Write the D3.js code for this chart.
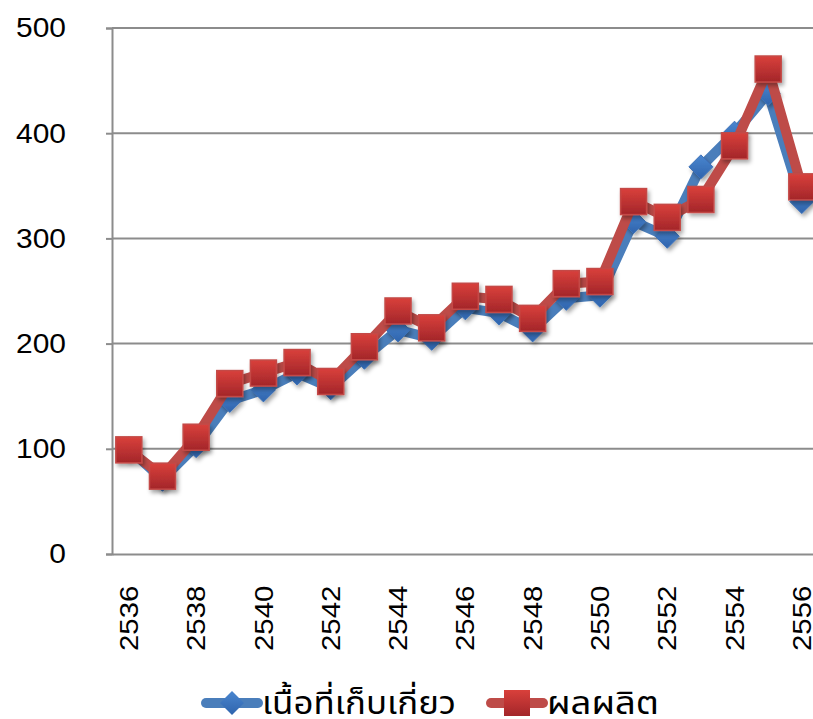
<!DOCTYPE html>
<html>
<head>
<meta charset="utf-8">
<script src="https://cdn.jsdelivr.net/npm/d3@7"></script>
<style>
  body { margin: 0; background: #fff; overflow: hidden; }
  text { font-family: "Liberation Sans", Arial, sans-serif; fill: #000; }
  .legend text { font-family: "Noto Sans Thai", "Noto Sans", "DejaVu Sans", sans-serif; }
</style>
</head>
<body>
<div id="chart"></div>
<script>
// years (Thai Buddhist era)
const years = d3.range(2536, 2557);
// เนื้อที่เก็บเกี่ยว
const areaValues = [100, 71, 103, 146, 156, 172, 158, 187, 213, 205, 234, 229, 213, 243, 246, 316, 302, 368, 400, 438, 335];
// ผลผลิต
const outputValues = [99, 74, 111, 162, 172, 182, 164, 197, 231, 215, 245, 242, 224, 257, 259, 335, 320, 337, 388, 461, 349];
const yTicks = [0, 100, 200, 300, 400, 500];
const xLabels = years.filter((d, i) => i % 2 === 0);

const W = 813, H = 719;
const margin = {top: 28, left: 112, bottom: 165};
const step = 33.65;

const svg = d3.select("#chart").append("svg")
    .attr("width", W).attr("height", H);

const defs = svg.append("defs");
const shadow = defs.append("filter").attr("id", "shadow")
    .attr("x", "-50%").attr("y", "-50%").attr("width", "200%").attr("height", "200%");
shadow.append("feDropShadow").attr("dx", 2).attr("dy", 3).attr("stdDeviation", 2)
    .attr("flood-color", "#000").attr("flood-opacity", 0.35);

const redGrad = defs.append("linearGradient").attr("id", "redGrad")
    .attr("x1", 0).attr("y1", 0).attr("x2", 0).attr("y2", 1);
redGrad.append("stop").attr("offset", "0%").attr("stop-color", "#d9403b");
redGrad.append("stop").attr("offset", "100%").attr("stop-color", "#a3262a");

const blueGrad = defs.append("linearGradient").attr("id", "blueGrad")
    .attr("x1", 0).attr("y1", 0).attr("x2", 0).attr("y2", 1);
blueGrad.append("stop").attr("offset", "0%").attr("stop-color", "#4a86cf");
blueGrad.append("stop").attr("offset", "100%").attr("stop-color", "#2f64ad");

const x = d3.scaleBand()
    .domain(years)
    .range([margin.left, margin.left + step * years.length]);

const y = d3.scaleLinear()
    .domain([0, 500])
    .range([H - margin.bottom, margin.top]);

// gridlines
svg.append("g").selectAll("line")
    .data(yTicks.filter(d => d > 0))
    .join("line")
    .attr("x1", margin.left).attr("x2", W)
    .attr("y1", d => y(d)).attr("y2", d => y(d))
    .attr("stroke", "#8c8c8c").attr("stroke-width", 2);

// y axis
const yAxis = svg.append("g")
    .attr("transform", `translate(${margin.left},0)`)
    .call(d3.axisLeft(y).tickValues(yTicks).tickSize(6));
yAxis.select(".domain").attr("stroke", "#8c8c8c").attr("stroke-width", 2);
yAxis.selectAll(".tick line").attr("stroke", "#8c8c8c").attr("stroke-width", 2);
yAxis.selectAll("text")
    .style("font-size", "28px")
    .attr("fill", "#000")
    .attr("x", 0)
    .attr("transform", "translate(-46,0) scale(1.07,1)");

// x axis
const xAxis = svg.append("g")
    .attr("transform", `translate(0,${y(0)})`)
    .call(d3.axisBottom(x).tickValues(xLabels).tickSize(0).tickSizeOuter(0));
xAxis.select(".domain").attr("stroke", "#8c8c8c").attr("stroke-width", 2);
xAxis.selectAll("text")
    .style("font-size", "26px")
    .attr("fill", "#000")
    .attr("text-anchor", "end")
    .attr("transform", "rotate(-90) scale(1.13,1)")
    .attr("x", -28)
    .attr("y", 0)
    .attr("dy", "0.35em");

const cx = d => x(d) + x.bandwidth() / 2;

const line = d3.line()
    .x((d, i) => cx(years[i]))
    .y(d => y(d));

const plot = svg.append("g");

// blue series
plot.append("path")
    .datum(areaValues)
    .attr("d", line)
    .attr("fill", "none")
    .attr("stroke", "#4a7ebb")
    .attr("stroke-width", 10)
    .attr("stroke-linejoin", "round");

plot.append("g").selectAll("path")
    .data(areaValues)
    .join("path")
    .attr("d", "M0,-12 L12,0 L0,12 L-12,0 Z")
    .attr("transform", (d, i) => `translate(${cx(years[i])},${y(d)})`)
    .attr("fill", "url(#blueGrad)")
    .attr("stroke", "#3d72b8")
    .attr("stroke-width", 1)
    .attr("filter", "url(#shadow)");

// red series
plot.append("path")
    .datum(outputValues)
    .attr("d", line)
    .attr("fill", "none")
    .attr("stroke", "#be4b48")
    .attr("stroke-width", 10)
    .attr("stroke-linejoin", "round");

plot.append("g").selectAll("rect")
    .data(outputValues)
    .join("rect")
    .attr("x", (d, i) => cx(years[i]) - 13)
    .attr("y", d => y(d) - 13)
    .attr("width", 26).attr("height", 26)
    .attr("fill", "url(#redGrad)")
    .attr("stroke", "#c44a47")
    .attr("stroke-width", 1.5)
    .attr("filter", "url(#shadow)");

// legend
const legend = svg.append("g").attr("class", "legend");
const ly = 703;

legend.append("line")
    .attr("x1", 206).attr("x2", 258).attr("y1", ly).attr("y2", ly)
    .attr("stroke", "#4a7ebb").attr("stroke-width", 10).attr("stroke-linecap", "round");
legend.append("path")
    .attr("d", "M0,-12 L12,0 L0,12 L-12,0 Z")
    .attr("transform", `translate(232,${ly})`)
    .attr("fill", "url(#blueGrad)");
legend.append("text")
    .attr("x", 262).attr("y", 714)
    .style("font-size", "32px")
    .attr("textLength", 194)
    .attr("lengthAdjust", "spacingAndGlyphs")
    .text("เนื้อที่เก็บเกี่ยว");

legend.append("line")
    .attr("x1", 491).attr("x2", 543).attr("y1", ly).attr("y2", ly)
    .attr("stroke", "#be4b48").attr("stroke-width", 10).attr("stroke-linecap", "round");
legend.append("rect")
    .attr("x", 504).attr("y", ly - 13).attr("width", 26).attr("height", 26)
    .attr("fill", "url(#redGrad)");
legend.append("text")
    .attr("x", 547).attr("y", 714)
    .style("font-size", "32px")
    .attr("textLength", 112)
    .attr("lengthAdjust", "spacingAndGlyphs")
    .text("ผลผลิต");
</script>
</body>
</html>
